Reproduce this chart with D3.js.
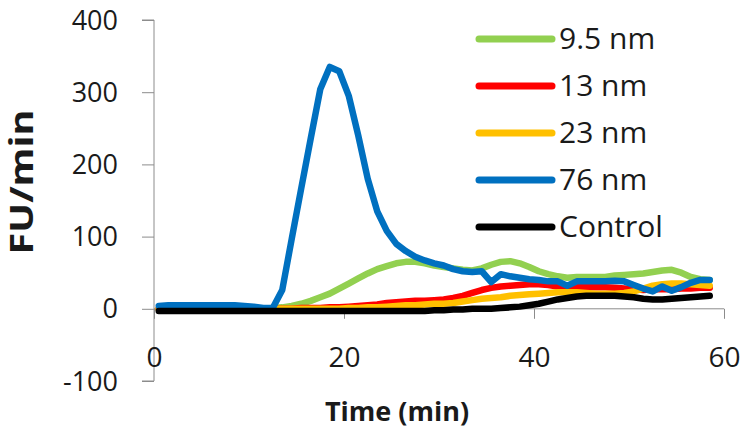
<!DOCTYPE html>
<html>
<head>
<meta charset="utf-8">
<script src="https://cdnjs.cloudflare.com/ajax/libs/d3/7.8.5/d3.min.js"></script>
<style>
  html, body { margin: 0; padding: 0; background: #fff; }
  svg { display: block; }
  text { font-family: "Open Sans", "Liberation Sans", sans-serif; fill: #1a1a1a; }
</style>
</head>
<body>
<svg id="chart" width="750" height="436"></svg>
<script>
// ---- data ----
const times = [0.5,1.5,2.5,3.5,4.5,5.5,6.5,7.5,8.5,9.5,10.5,11.5,12.5,13.5,14.5,15.5,16.5,17.5,18.5,19.5,
  20.5,21.5,22.5,23.5,24.5,25.5,26.5,27.5,28.5,29.5,30.5,31.5,32.5,33.5,34.5,35.5,36.5,37.5,38.5,39.5,
  40.5,41.5,42.5,43.5,44.5,45.5,46.5,47.5,48.5,49.5,50.5,51.5,52.5,53.5,54.5,55.5,56.5,57.5,58.5];

const green95 = [0,0,0,0,0,0,0,0,0,0,0,0,1,2,4,7,11,16,21,28,
  35,42,49,55,59,63,65,65,63,60,58,56,54,53,56,61,65,66,63,58,
  52,48,45,43,44,44,44,44,46,47,48,49,51,53,54,50,44,41,40];

const red13 = [0,0,0,0,0,0,0,0,0,0,0,0,0,0,0,1,1,1,2,2,
  3,4,5,6,8,9,10,11,11,12,13,15,18,22,26,29,31,32,33,34,
  34,33,31,30,30,30,30,30,29,28,27,26,27,27,27,28,28,29,29];

const orange23 = [0,0,0,0,0,0,0,0,0,0,0,0,0,0,0,0,0,0,0,0,
  1,1,2,2,3,4,5,5,6,7,7,8,10,12,14,15,16,18,19,20,
  21,22,23,23,23,22,21,21,21,22,24,28,32,34,35,35,34,33,32];

const blue76 = [4,5,5,5,5,5,5,5,5,4,3,1,1,26,97,167,236,304,335,329,
  295,240,180,135,108,90,80,72,67,63,60,55,52,51,52,37,48,45,43,41,
  40,38,38,32,38,38,38,38,39,38,33,28,24,31,25,30,36,40,40];

const control = [-3,-3,-3,-3,-3,-3,-3,-3,-3,-3,-3,-3,-3,-3,-3,-3,-3,-3,-3,-3,
  -3,-3,-3,-3,-3,-3,-3,-3,-3,-2,-2,-1,-1,0,0,0,1,2,3,5,
  7,10,13,15,17,18,18,18,18,17,16,14,13,13,14,15,16,17,18];

const seriesNames = ["9.5 nm", "13 nm", "23 nm", "76 nm", "Control"];
const seriesColors = ["#92D050", "#FF0000", "#FFC000", "#0070C0", "#000000"];
const seriesValues = [green95, red13, orange23, blue76, control];

const yTicks = [-100, 0, 100, 200, 300, 400];
const xTicks = [0, 20, 40, 60];
const xTitle = "Time (min)";
const yTitle = "FU/min";

// ---- chart ----
const svg = d3.select("#chart");
const x = d3.scaleLinear().domain([0, 60]).range([154, 724]);
const y = d3.scaleLinear().domain([-100, 400]).range([381, 20]);
const axisColor = "#8c8c8c";
const fmt = d => String(d);

// y axis
const yAxis = svg.append("g").attr("transform", `translate(${x(0)},0)`)
  .call(d3.axisLeft(y).tickValues(yTicks).tickSize(12).tickFormat(fmt));
yAxis.select(".domain").attr("stroke", axisColor).attr("d", `M-12,${y(-100)}H0V${y(400)}H-12`);
yAxis.selectAll(".tick line").attr("stroke", axisColor);
yAxis.selectAll(".tick text")
  .attr("x", -36).attr("dy", null).attr("y", 9)
  .style("font-size", "27px").style("font-family", "'Open Sans', sans-serif")
  .attr("fill", "#1a1a1a");

// x axis at zero line, labels low
const xAxis = svg.append("g").attr("transform", `translate(0,${y(0)})`)
  .call(d3.axisBottom(x).tickValues(xTicks).tickSize(10).tickFormat(fmt));
xAxis.select(".domain").attr("stroke", axisColor).attr("d", `M${x(0)},0H${x(60)}`);
xAxis.selectAll(".tick line").attr("stroke", axisColor);
xAxis.selectAll(".tick text")
  .attr("y", 367 - y(0)).attr("dy", null)
  .style("font-size", "28px").style("font-family", "'Open Sans', sans-serif")
  .attr("fill", "#1a1a1a");

// lines
const line = d3.line()
  .x((d, i) => x(times[i]))
  .y(d => y(d))
  .curve(d3.curveLinear);

seriesValues.forEach((vals, k) => {
  svg.append("path")
    .datum(vals)
    .attr("d", line)
    .attr("fill", "none")
    .attr("stroke", seriesColors[k])
    .attr("stroke-width", 6.5)
    .attr("stroke-linejoin", "round")
    .attr("stroke-linecap", "round");
});

// legend
const legendY = d3.scaleLinear().domain([0, 4]).range([39, 227]);
const legend = svg.append("g");
seriesNames.forEach((name, k) => {
  const ly = legendY(k);
  legend.append("line")
    .attr("x1", 479).attr("x2", 552).attr("y1", ly).attr("y2", ly)
    .attr("stroke", seriesColors[k]).attr("stroke-width", 7)
    .attr("stroke-linecap", "round");
  legend.append("text")
    .attr("x", 559).attr("y", ly + 10)
    .style("font-size", "30px")
    .text(name);
});

// axis titles
svg.append("text")
  .attr("x", 397).attr("y", 421)
  .attr("text-anchor", "middle")
  .style("font-size", "27px").style("font-weight", "bold")
  .text(xTitle);

svg.append("text")
  .attr("transform", "translate(33,182) rotate(-90)")
  .attr("text-anchor", "middle")
  .attr("textLength", 145).attr("lengthAdjust", "spacingAndGlyphs")
  .style("font-size", "32px").style("font-weight", "bold")
  .text(yTitle);
</script>
</body>
</html>
